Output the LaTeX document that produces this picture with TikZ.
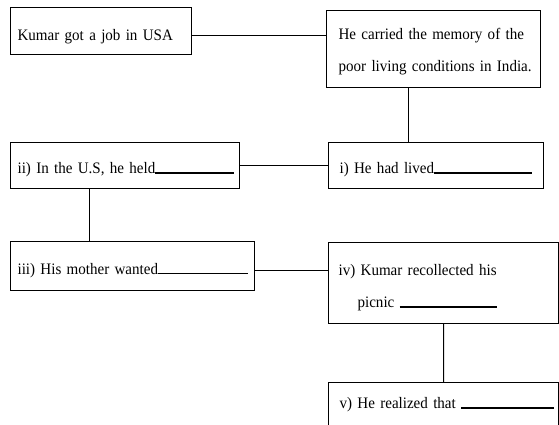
\documentclass[tikz,border=0pt]{standalone}
\usepackage{fontspec}
\setmainfont[FakeStretch=0.94, WordSpace=0.75]{Liberation Serif}
\usetikzlibrary{calc, positioning}

% blank to be filled in
\newcommand{\fillin}[1]{\rule{#1}{1.2bp}}

\tikzset{
  qbox/.style={draw, line width=1.2bp, anchor=north west, align=left,
    inner xsep=7bp, inner ysep=0pt, text height=19.5bp, text depth=3.5bp,
    font=\fontsize{16bp}{32bp}\selectfont},
  link/.style={line width=1.2bp}
}

\begin{document}
\begin{tikzpicture}[x=1bp, y=-1bp]
\useasboundingbox (0,0) rectangle (559,424);

% --- top row ---
\node[qbox, text width=167bp, minimum height=47bp, text height=22bp] (job) at (10,7) {\mbox{Kumar got a job in USA}};
\node[qbox, inner xsep=12bp, text width=190bp, minimum height=77bp, text height=16.5bp, text depth=35.5bp] (memory) at (326,10)
  {\mbox{He carried the memory of the}\\\mbox{poor living conditions in India.}};

% --- second row ---
\node[qbox, text width=215bp, minimum height=46bp] (held) at (10,142) {\mbox{ii) In the U.S, he held\fillin{79bp}}};
\node[qbox, inner xsep=11bp, text width=193bp, minimum height=46bp] (lived) at (328,142) {\mbox{i) He had lived\fillin{98bp}}};

% --- third row ---
\node[qbox, text width=230bp, minimum height=49bp] (wanted) at (10,241) {\mbox{iii) His mother wanted\fillin{90bp}}};
\node[qbox, inner xsep=10bp, text width=210bp, minimum height=81bp, text height=20.5bp, text depth=35.5bp] (picnic) at (328,242)
  {\mbox{iv) Kumar recollected his}\\\mbox{\hspace*{19bp}picnic \fillin{97bp}}};

% --- last box, cut by the page ---
\node[qbox, inner xsep=11bp, text width=208bp, minimum height=48bp, text height=11.5bp, text depth=7.5bp] (realized) at (328,382)
  {\mbox{v) He realized that \fillin{93bp}}};

% --- connectors ---
\coordinate (c1) at ([yshift=-4bp]job.east);
\draw[link] (c1) -- (c1 -| memory.west);
\coordinate (c2) at ([xshift=-25bp]memory.south);
\draw[link] (c2) -- (c2 |- lived.north);
\draw[link] (held.east) -- (lived.west);
\coordinate (c3) at ([xshift=-36bp]held.south);
\draw[link] (c3) -- (c3 |- wanted.north);
\coordinate (c4) at ([yshift=-4bp]wanted.east);
\draw[link] (c4) -- (c4 -| picnic.west);
\draw[link] (picnic.south) -- (realized.north);

\end{tikzpicture}
\end{document}
